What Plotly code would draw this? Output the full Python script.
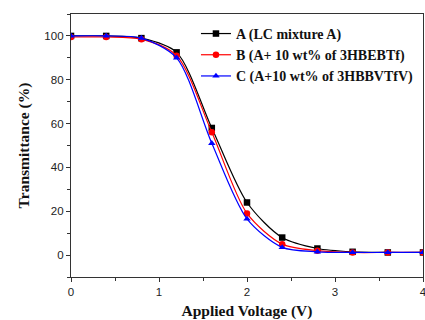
import plotly.graph_objects as go

voltage = [0, 0.4, 0.8, 1.2, 1.6, 2.0, 2.4, 2.8, 3.2, 3.6, 4.0]
trans_A = [100, 100, 99, 92.5, 58, 24, 8, 3, 1.5, 1.2, 1.2]
trans_B = [99.5, 99.5, 98.5, 91, 56, 19, 5, 2, 1.2, 1.2, 1.2]
trans_C = [100, 100, 99, 90, 51, 16.5, 3.5, 1.5, 1.2, 1.2, 1.2]
names = ["A (LC mixture A)", "B (A+ 10 wt% of 3HBEBTf)", "C (A+10 wt% of 3HBBVTfV)"]

fig = go.Figure()
specs = [(trans_A, "black", "square"), (trans_B, "red", "circle"), (trans_C, "blue", "triangle-up")]
for (ys, col, sym), nm in zip(specs, names):
    fig.add_trace(go.Scatter(x=voltage, y=ys, name="<b>" + nm + "</b>", mode="lines+markers",
                             line=dict(color=col, width=1.2, shape="spline", smoothing=0.8),
                             marker=dict(color=col, symbol=sym, size=6.5)))

axis_common = dict(showline=True, linecolor="#333", linewidth=1.3, mirror=True,
                   ticks="outside", ticklen=4, tickwidth=1, tickcolor="#333",
                   showgrid=False, zeroline=False, ticklabeloverflow="allow", automargin=False,
                   tickfont=dict(family="Liberation Sans, Arial", size=11.5, color="#222"))
fig.update_xaxes(range=[0, 4], dtick=1, minor=dict(dtick=0.5, ticks="outside", ticklen=2.5, tickcolor="#333"),
                 title=dict(text="<b>Applied Voltage (V)</b>", standoff=11,
                            font=dict(family="Liberation Serif, Times New Roman", size=15.5, color="#111")),
                 **axis_common)
fig.update_yaxes(range=[-10, 110], dtick=20, minor=dict(dtick=10, ticks="outside", ticklen=2.5, tickcolor="#333"),
                 title=dict(text="<b>Transmittance (%)</b>", standoff=10,
                            font=dict(family="Liberation Serif, Times New Roman", size=15.5, color="#111")),
                 **axis_common)
fig.update_layout(width=425, height=320, margin=dict(l=71, r=2, t=14, b=43),
                  plot_bgcolor="white", paper_bgcolor="white",
                  legend=dict(x=0.355, y=0.985, xanchor="left", yanchor="top", bgcolor="rgba(0,0,0,0)",
                              font=dict(family="Liberation Serif, Times New Roman", size=14, color="#111"),
                              tracegroupgap=0, itemwidth=30),
                  showlegend=True)
fig.write_html("out.html", config={"displayModeBar": False},
               post_script="document.body.style.margin='0';")
